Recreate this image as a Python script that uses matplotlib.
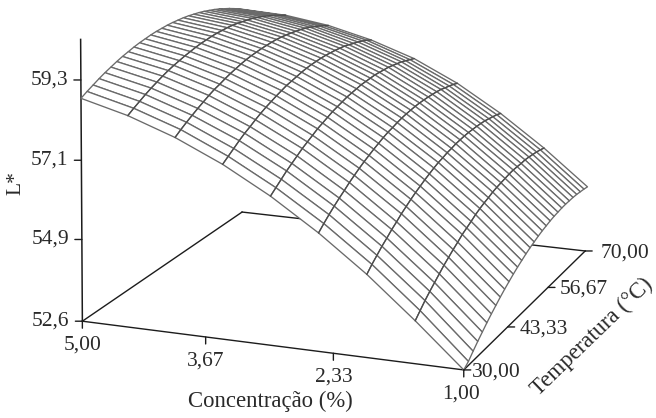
import numpy as np
import matplotlib
matplotlib.use("Agg")
import matplotlib.pyplot as plt
from mpl_toolkits.mplot3d import proj3d

plt.rcParams['font.family'] = ['Liberation Serif', 'DejaVu Serif']

conc = [5.0, 4.5, 4.0, 3.5, 3.0, 2.5, 2.0, 1.5, 1.0]
temp = [30, 31.33, 32.67, 34, 35.33, 36.67, 38, 39.33, 40.67, 42, 43.33, 44.67, 46, 47.33, 48.67, 50,
        51.33, 52.67, 54, 55.33, 56.67, 58, 59.33, 60.67, 62, 63.33, 64.67, 66, 67.33, 68.67, 70]
# L*, one row per temperature line
L = np.array([
    [58.80, 58.46, 58.00, 57.41, 56.69, 55.84, 54.87, 53.77, 52.60],
    [58.90, 58.57, 58.12, 57.53, 56.82, 55.99, 55.03, 53.93, 52.71],
    [58.99, 58.67, 58.23, 57.65, 56.95, 56.13, 55.17, 54.09, 52.87],
    [59.08, 58.77, 58.33, 57.77, 57.08, 56.26, 55.31, 54.23, 53.02],
    [59.16, 58.86, 58.43, 57.88, 57.19, 56.38, 55.43, 54.36, 53.16],
    [59.23, 58.94, 58.52, 57.97, 57.30, 56.49, 55.56, 54.49, 53.30],
    [59.30, 59.02, 58.61, 58.07, 57.41, 56.61, 55.67, 54.62, 53.43],
    [59.36, 59.09, 58.69, 58.16, 57.50, 56.71, 55.79, 54.73, 53.55],
    [59.41, 59.15, 58.75, 58.24, 57.59, 56.81, 55.89, 54.84, 53.67],
    [59.46, 59.20, 58.82, 58.31, 57.68, 56.90, 55.99, 54.94, 53.78],
    [59.50, 59.25, 58.88, 58.38, 57.75, 56.98, 56.08, 55.05, 53.88],
    [59.53, 59.29, 58.93, 58.44, 57.82, 57.06, 56.16, 55.13, 53.98],
    [59.56, 59.33, 58.98, 58.50, 57.89, 57.13, 56.24, 55.21, 54.07],
    [59.58, 59.36, 59.02, 58.54, 57.94, 57.20, 56.31, 55.30, 54.15],
    [59.59, 59.38, 59.05, 58.58, 57.99, 57.26, 56.38, 55.37, 54.23],
    [59.60, 59.40, 59.07, 58.62, 58.04, 57.30, 56.44, 55.43, 54.30],
    [59.60, 59.41, 59.09, 58.65, 58.07, 57.35, 56.48, 55.48, 54.36],
    [59.59, 59.41, 59.10, 58.67, 58.10, 57.39, 56.53, 55.54, 54.42],
    [59.58, 59.41, 59.11, 58.68, 58.13, 57.42, 56.56, 55.58, 54.47],
    [59.56, 59.40, 59.11, 58.69, 58.14, 57.44, 56.60, 55.61, 54.51],
    [59.53, 59.38, 59.10, 58.69, 58.15, 57.46, 56.62, 55.64, 54.55],
    [59.50, 59.35, 59.08, 58.68, 58.16, 57.47, 56.64, 55.67, 54.58],
    [59.46, 59.32, 59.06, 58.67, 58.15, 57.47, 56.65, 55.69, 54.60],
    [59.41, 59.29, 59.03, 58.65, 58.14, 57.47, 56.65, 55.69, 54.62],
    [59.36, 59.24, 59.00, 58.63, 58.13, 57.46, 56.65, 55.69, 54.63],
    [59.30, 59.19, 58.96, 58.59, 58.10, 57.45, 56.64, 55.70, 54.63],
    [59.23, 59.13, 58.91, 58.55, 58.07, 57.43, 56.63, 55.69, 54.63],
    [59.16, 59.07, 58.85, 58.51, 58.04, 57.39, 56.60, 55.67, 54.62],
    [59.08, 59.00, 58.79, 58.46, 57.99, 57.36, 56.57, 55.65, 54.60],
    [58.99, 58.92, 58.72, 58.40, 57.94, 57.32, 56.54, 55.62, 54.58],
    [58.90, 58.84, 58.65, 58.33, 57.89, 57.27, 56.49, 55.58, 54.55],
])

z_ticks = [52.6, 54.9, 57.1, 59.3]
z_labels = ['52,6', '54,9', '57,1', '59,3']
conc_ticks = [5.00, 3.67, 2.33, 1.00]
conc_labels = ['5,00', '3,67', '2,33', '1,00']
temp_ticks = [30.00, 43.33, 56.67, 70.00]
temp_labels = ['30,00', '43,33', '56,67', '70,00']

W, H = 656, 418
S = 3143.6
side = S * 0.185
fig = plt.figure(figsize=(W / 100, H / 100), dpi=100)
ax = fig.add_axes([(346.16 - 0.095 * S) / W, (H - 150.76 - 0.095 * S) / H, side / W, side / H], projection='3d')
ax.set_xlim(5, 1)
ax.set_ylim(30, 70)
ax.set_zlim(52.6, 60.4)
ax.view_init(elev=14.658, azim=-70.527, roll=-0.910)
ax.set_proj_type('persp', focal_length=1)
ax.set_box_aspect((1.2344, 1.3418, 0.8906), zoom=1.0647)
ax.set_axis_off()
ax.computed_zorder = False
ax.patch.set_alpha(0)

dark = '#1c1c1c'
text_col = '#2a2a2a'
zb = z_ticks[0]
ax.plot([5, 1], [30, 30], [zb, zb], color=dark, lw=1, zorder=1)
ax.plot([1, 1], [30, 70], [zb, zb], color=dark, lw=1, zorder=1)
ax.plot([1, 5], [70, 70], [zb, zb], color=dark, lw=1, zorder=1)
ax.plot([5, 5], [70, 30], [zb, zb], color=dark, lw=1, zorder=1)
ax.plot([5, 5], [30, 30], [zb, 60.4], color=dark, lw=1.1, zorder=1)

X, Y = np.meshgrid(conc, temp)
ax.plot_surface(X, Y, L, rstride=1, cstride=1, color='white', edgecolor='#6a6a6a',
                linewidth=0.95, shade=False, zorder=2)
for j in range(1, len(conc) - 1):
    ax.plot(np.full(len(temp), conc[j]), temp, L[:, j], color='#4a4a4a', lw=0.8, zorder=3)

M = ax.get_proj()


def mark(x, y, z, dx, dy, label, lx, ly, ha='center'):
    u2, v2, _ = proj3d.proj_transform(x, y, z, M)
    ax.annotate('', xy=(u2, v2), xytext=(dx, dy), textcoords='offset pixels',
                arrowprops=dict(arrowstyle='-', lw=1, color=dark, shrinkA=0, shrinkB=0))
    ax.annotate(label, xy=(u2, v2), xytext=(lx, ly), textcoords='offset pixels',
                ha=ha, va='center', fontsize=15.5, color=text_col)


for z, s in zip(z_ticks, z_labels):
    mark(5, 30, z, -7, 0, s, -13, 0, ha='right')
for c, s, off in zip(conc_ticks, conc_labels, [0, 0, 0, -3]):
    mark(c, 30, zb, 0, -7, s, off, -24)
for T, s, off in zip(temp_ticks, temp_labels, [8, 12, 12, 15]):
    mark(1, T, zb, 7, 0, s, off, -2, ha='left')

fig.text(16 / W, 1 - 183 / H, 'L*', rotation=90, ha='center', va='center', fontsize=15.5, color=text_col)
fig.text(270 / W, 1 - 401 / H, 'Concentração (%)', ha='center', va='center', fontsize=16.4, color=text_col)
fig.text(592 / W, 1 - 337 / H, 'Temperatura (°C)', rotation=44, rotation_mode='anchor', ha='center', va='center',
         fontsize=16.4, color=text_col)

fig.savefig('out.png', dpi=100)
